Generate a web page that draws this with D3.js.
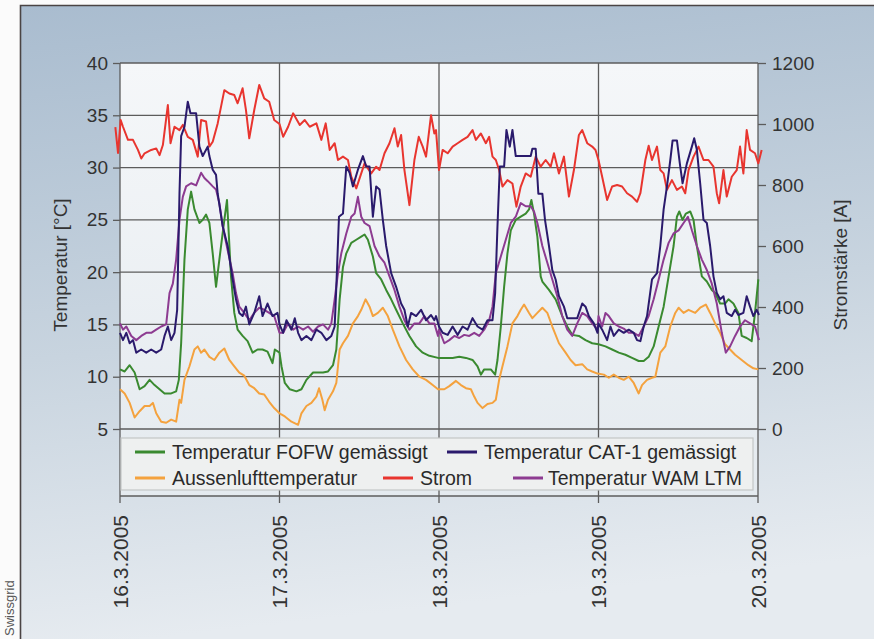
<!DOCTYPE html>
<html><head><meta charset="utf-8">
<script src="https://cdn.jsdelivr.net/npm/d3@7"></script>
<style>
html,body{margin:0;padding:0;background:#fff;}
svg{display:block;font-family:"Liberation Sans",Arial,Helvetica,sans-serif;}
</style></head><body>
<svg id="chart" width="874" height="639"></svg>
<script>
// ---------- data (hours since 16.3.2005 00:00) ----------
const tempTicks = [5, 10, 15, 20, 25, 30, 35, 40];
const stromTicks = [0, 200, 400, 600, 800, 1000, 1200];
const dayLabels = ["16.3.2005", "17.3.2005", "18.3.2005", "19.3.2005", "20.3.2005"];
const legendLabels = ["Temperatur FOFW gemässigt", "Temperatur CAT-1 gemässigt", "Aussenlufttemperatur", "Strom", "Temperatur WAM LTM"];

const fofw = [[0,10.7],[0.7,10.5],[1.45,11.1],[2.2,10.4],[2.95,8.8],[3.7,9.1],[4.45,9.7],[5.2,9.2],[5.95,8.8],[6.7,8.4],[7.7,8.4],[8.45,8.6],[8.85,9.7],[9.2,13.2],[9.7,21.2],[10.2,26.0],[10.7,27.7],[11.2,26.0],[11.95,24.7],[12.45,25.0],[12.95,25.5],[13.45,24.7],[13.95,21.8],[14.45,18.6],[14.95,21.2],[15.7,25.0],[16.1,26.9],[16.7,19.6],[17.2,16.1],[17.7,14.5],[18.45,13.9],[19.2,13.4],[19.95,12.3],[20.7,12.6],[21.45,12.6],[22.2,12.4],[22.95,11.3],[23.3,12.6],[24,12.3],
  [24.3,11.0],[24.8,9.4],[25.55,8.8],[26.55,8.6],[27.3,8.8],[28.05,9.7],[29.05,10.4],[29.8,10.4],[30.55,10.4],[31.3,10.5],[32.05,11.1],[32.55,12.6],[33.05,17.4],[33.55,20.5],[34.05,21.8],[34.8,22.8],[35.55,23.1],[36.3,23.4],[36.8,23.6],[37.3,23.1],[38.05,21.5],[38.55,19.9],[39.3,19.3],[40.05,18.3],[40.8,17.4],[41.55,16.4],[42.55,15.1],[43.55,13.9],[44.55,12.9],[45.55,12.3],[46.55,12.0],[47.85,11.8],
  [49.05,11.8],[50.05,11.8],[51.05,11.9],[52.05,11.8],[53.05,11.6],[53.8,11.0],[54.3,10.2],[54.8,10.7],[55.8,10.7],[56.45,10.2],[56.8,11.6],[57.3,14.8],[57.8,18.6],[58.3,21.8],[58.8,24.0],[59.55,25.0],[60.3,25.3],[61.05,25.6],[61.55,26.0],[61.9,26.9],[62.3,25.6],[62.8,23.4],[63.3,19.6],[63.55,19.1],[64.55,18.3],[65.55,17.4],[66.55,15.8],[67.3,14.8],[68.05,14.0],[69.05,13.9],[70.05,13.5],[71.05,13.2],[72,13.1],
  [73.05,12.9],[74.05,12.6],[75.05,12.3],[76.05,12.1],[77.05,11.8],[78.05,11.5],[78.8,11.5],[79.55,11.9],[80.3,12.9],[81.05,14.8],[81.8,16.7],[82.55,19.6],[83.3,22.5],[83.8,25.3],[84.15,25.8],[84.65,25.0],[85.15,25.6],[85.8,25.8],[86.3,25.0],[86.8,22.5],[87.55,19.6],[88.3,19.1],[89.05,18.3],[89.55,18.0],[90.3,17.0],[91.05,17.0],[91.55,17.4],[92.3,17.0],[93.05,16.1],[93.55,13.9],[94.3,13.7],[95.05,13.4],[95.55,16.1],[96.05,19.3]];

const cat1 = [[0,14.2],[0.45,13.5],[0.95,14.2],[1.45,13.2],[1.95,13.5],[2.45,12.3],[3.2,12.6],[3.95,12.3],[4.7,12.6],[5.45,12.3],[6.2,12.6],[6.7,13.9],[7.2,14.8],[7.7,13.5],[8.2,14.2],[8.6,16.4],[8.95,27.5],[9.2,33.0],[9.7,33.9],[10.2,36.3],[10.6,35.2],[11.45,35.2],[11.95,32.0],[12.45,31.1],[13.2,32.0],[13.45,31.1],[13.95,29.8],[14.45,29.3],[14.7,27.5],[15.45,24.4],[16.2,22.5],[16.95,19.3],[17.45,17.4],[17.95,16.1],[18.45,15.8],[18.95,16.7],[19.45,15.0],[20.2,16.1],[20.95,17.7],[21.45,15.8],[22.2,17.0],[22.95,15.8],[23.7,16.1],[24,15.0],
  [24.55,14.2],[25.05,15.4],[25.8,14.5],[26.3,15.6],[26.8,14.2],[27.3,13.5],[28.05,13.9],[28.8,13.5],[29.55,14.5],[30.3,14.2],[31.05,13.5],[31.8,13.9],[32.3,14.8],[32.55,18.6],[32.95,25.3],[33.55,25.6],[34.05,30.1],[34.55,29.5],[35.05,28.2],[35.8,29.8],[36.55,31.1],[37.05,30.1],[37.55,30.1],[38.05,25.3],[38.55,28.2],[39.05,27.9],[39.55,25.0],[40.05,22.5],[40.8,19.9],[41.55,18.6],[42.3,17.0],[42.8,16.4],[43.3,14.8],[43.8,16.1],[44.55,15.8],[45.3,16.4],[46.05,15.4],[46.8,15.9],[47.3,15.4],[47.55,15.8],[48,14.8],
  [48.55,14.2],[49.3,14.0],[50.05,14.8],[50.8,14.0],[51.55,14.8],[52.3,14.5],[53.05,15.6],[53.8,14.8],[54.55,14.5],[55.3,15.4],[56.05,15.4],[56.45,18.0],[56.8,24.4],[57.15,30.1],[57.8,30.1],[58.15,33.6],[58.65,32.0],[59.05,33.6],[59.55,31.1],[60.3,31.1],[61.05,31.1],[61.8,31.1],[62.05,31.8],[62.55,31.8],[62.95,27.5],[63.55,27.5],[63.95,25.0],[64.55,22.5],[65.05,20.2],[65.55,19.3],[66.05,17.7],[66.8,16.7],[67.3,15.6],[68.05,15.6],[68.8,15.6],[69.55,17.0],[70.05,16.7],[70.55,15.8],[71.3,15.1],[71.85,14.2],[72,15.1],
  [72.55,14.5],[73.3,13.5],[73.8,14.8],[74.3,13.9],[75.05,14.5],[75.8,14.2],[76.55,14.5],[77.3,14.2],[77.8,13.5],[78.3,13.4],[78.8,14.8],[79.3,15.8],[80.05,19.3],[80.8,19.9],[81.3,22.5],[81.8,26.0],[82.3,28.2],[82.8,30.7],[83.15,32.6],[83.8,32.6],[84.3,30.1],[84.65,28.5],[85.3,30.4],[86.05,32.0],[86.4,32.8],[86.8,31.7],[87.3,28.5],[87.8,25.0],[88.3,24.7],[88.8,22.5],[89.3,19.6],[89.8,18.0],[90.3,17.4],[90.8,17.7],[91.3,16.1],[92.05,15.8],[92.55,16.4],[93.05,15.9],[93.8,16.1],[94.3,17.7],[94.8,16.7],[95.3,15.8],[95.8,16.4],[96.15,15.9]];

const aussen = [[0,8.8],[0.7,8.4],[1.45,7.5],[2.2,6.1],[2.95,6.7],[3.7,7.2],[4.45,7.2],[4.95,7.5],[5.45,6.5],[6.2,5.7],[6.95,5.6],[7.7,5.9],[8.45,5.7],[8.95,7.8],[9.2,7.5],[9.7,9.7],[10.45,11.0],[11.2,12.6],[11.7,12.9],[12.2,12.3],[12.7,12.6],[13.45,11.9],[14.2,11.6],[14.95,12.3],[15.7,12.7],[16.45,11.6],[17.2,11.0],[17.95,10.4],[18.7,10.1],[19.45,9.2],[20.2,8.9],[20.95,8.4],[21.7,8.3],[22.45,7.6],[23.2,7.0],[24,6.5],
  [24.8,6.2],[25.8,5.7],[26.8,5.4],[27.3,6.5],[28.05,7.2],[28.8,7.5],[29.55,8.1],[29.95,8.9],[30.45,7.8],[30.8,6.8],[31.3,7.8],[32.05,8.6],[32.55,9.4],[33.05,12.6],[33.55,13.2],[34.3,13.9],[35.05,15.1],[35.8,15.8],[36.3,16.4],[36.95,17.4],[37.55,16.7],[38.05,15.8],[38.8,16.1],[39.55,16.6],[40.3,15.8],[41.05,14.5],[42.05,12.9],[43.05,11.6],[44.05,10.7],[45.05,10.0],[46.05,9.7],[47.05,9.2],[47.85,8.8],
  [48.8,8.8],[49.55,9.1],[50.55,9.6],[51.3,9.2],[52.05,8.9],[52.8,8.8],[53.3,8.1],[53.8,7.5],[54.55,7.0],[55.3,7.4],[56.05,7.5],[56.55,7.8],[57.05,9.7],[57.55,11.0],[58.3,12.9],[59.05,15.1],[59.8,15.8],[60.3,16.4],[60.8,16.9],[61.55,16.1],[62.05,15.6],[62.8,16.1],[63.55,16.6],[64.3,16.1],[65.05,14.8],[66.05,13.2],[67.05,12.3],[67.8,11.6],[68.55,11.1],[69.55,11.2],[70.3,10.7],[71.05,10.5],[71.85,10.3],
  [72.8,10.2],[73.55,9.9],[74.3,10.2],[75.05,9.9],[75.8,9.7],[76.55,10.0],[77.3,9.4],[78.05,8.4],[78.55,9.2],[79.3,9.7],[80.05,9.9],[80.55,10.0],[81.3,12.3],[82.05,12.9],[82.8,14.8],[83.55,16.1],[84.05,16.6],[84.8,16.1],[85.55,16.4],[86.55,16.1],[87.3,16.6],[88.15,16.9],[88.8,16.1],[89.55,15.1],[90.3,14.2],[91.05,13.1],[91.8,12.6],[92.55,12.1],[93.55,11.6],[94.55,11.1],[95.3,10.8],[96.05,10.7]];

const strom = [[-0.7,990],[-0.3,905],[0.1,1013],[0.45,991],[1.2,948],[1.95,948],[2.7,915],[3.2,887],[3.7,904],[4.7,915],[5.45,920],[5.95,898],[6.45,931],[7.2,1062],[7.6,937],[8.2,991],[8.95,980],[9.45,997],[10.2,958],[10.95,948],[11.7,893],[12.2,1013],[12.95,1008],[13.45,926],[13.95,942],[14.7,1002],[15.7,1111],[16.45,1100],[17.2,1095],[17.7,1068],[18.45,1117],[18.95,1046],[19.45,953],[20.2,1046],[20.95,1128],[21.7,1084],[22.45,1073],[23.2,1013],[24,1000],
  [24.55,958],[25.3,991],[26.05,1035],[27.05,997],[27.8,1013],[28.55,991],[29.55,1002],[30.3,948],[30.95,1002],[31.55,915],[32.3,937],[32.8,882],[33.55,893],[34.3,882],[34.8,827],[35.55,789],[36.3,838],[36.8,871],[37.8,838],[38.55,860],[39.05,849],[39.8,904],[40.55,937],[41.3,986],[41.8,926],[42.3,964],[42.8,849],[43.55,734],[44.3,882],[44.95,958],[45.55,926],[46.05,893],[46.8,1029],[47.3,969],[47.55,980],[48,849],
  [48.55,915],[49.3,904],[50.05,926],[50.8,937],[51.55,948],[52.3,958],[53.05,980],[53.55,948],[54.3,969],[55.05,937],[55.55,958],[56.05,893],[56.55,882],[57.05,849],[57.55,795],[58.3,816],[59.05,805],[59.65,729],[60.3,795],[61.05,838],[61.8,827],[62.55,893],[63.3,860],[64.05,882],[64.8,860],[65.3,904],[66.05,838],[66.8,893],[67.55,762],[68.3,849],[69.05,964],[69.55,980],[70.3,937],[71.05,926],[71.55,915],[72,882],
  [72.55,827],[73.3,751],[74.05,795],[74.8,800],[75.55,795],[76.3,773],[77.05,762],[77.8,745],[78.3,773],[79.05,882],[79.55,929],[80.05,882],[80.8,926],[81.3,849],[81.8,838],[82.3,784],[83.05,816],[83.8,784],[84.55,795],[85.05,773],[85.55,849],[86.3,893],[87.05,926],[87.8,882],[88.55,882],[89.3,860],[89.8,773],[90.15,740],[90.8,849],[91.3,762],[92.05,827],[92.8,849],[93.3,926],[93.8,838],[94.3,980],[94.8,915],[95.55,904],[96.05,871],[96.55,915]];

const wam = [[0,15.1],[0.45,14.5],[0.95,14.8],[1.7,13.9],[2.45,13.5],[3.2,13.9],[3.95,14.2],[4.7,14.2],[5.45,14.5],[6.2,14.8],[6.95,15.0],[7.45,18.0],[7.95,18.9],[8.45,21.2],[8.95,25.0],[9.45,27.2],[9.95,28.2],[10.7,28.5],[11.45,28.3],[12.2,29.5],[12.7,29.0],[13.2,28.7],[13.95,28.2],[14.45,27.9],[14.95,26.6],[15.45,24.4],[16.2,22.1],[16.95,19.9],[17.45,18.0],[17.95,16.7],[18.7,16.1],[19.45,15.4],[20.2,16.1],[20.95,16.6],[21.7,16.4],[22.45,16.1],[23.2,15.8],[24,14.2],
  [24.55,14.2],[25.3,15.1],[26.05,14.5],[26.8,14.8],[27.55,14.5],[28.3,14.8],[29.05,14.3],[29.8,14.8],[30.55,15.0],[31.3,14.5],[31.8,15.1],[32.3,17.4],[32.8,19.9],[33.3,21.8],[34.05,23.7],[34.8,25.3],[35.3,25.6],[35.8,27.2],[36.3,25.3],[36.8,24.7],[37.55,24.4],[38.3,22.5],[39.05,21.5],[39.8,20.9],[40.55,19.6],[41.3,18.3],[42.05,16.7],[42.8,15.4],[43.55,14.5],[44.3,15.1],[45.05,15.1],[45.8,15.8],[46.55,15.1],[47.3,15.1],[47.85,13.9],
  [48,14.5],[48.8,13.2],[49.55,13.5],[50.3,13.9],[51.05,13.7],[51.8,14.0],[52.55,13.9],[53.3,14.2],[54.05,13.9],[54.8,14.5],[55.55,15.4],[56.05,16.7],[56.55,19.9],[57.3,21.5],[58.05,23.1],[58.8,24.7],[59.55,25.3],[60.3,26.6],[61.05,26.3],[61.8,26.3],[62.3,25.8],[62.8,24.7],[63.55,22.5],[64.3,20.9],[65.05,19.3],[65.8,17.7],[66.55,15.8],[67.3,14.5],[68.05,13.9],[68.8,15.1],[69.55,16.1],[70.3,15.8],[71.05,15.1],[71.85,14.5],
  [72,15.8],[72.55,14.8],[73.05,16.1],[73.55,15.8],[74.3,15.1],[75.05,14.8],[75.8,14.6],[76.55,14.2],[77.3,14.2],[78.05,13.9],[78.8,14.8],[79.55,15.8],[80.3,17.4],[81.05,19.3],[81.8,21.2],[82.55,22.8],[83.3,23.7],[84.05,24.0],[84.8,24.7],[85.45,25.3],[86.05,24.0],[86.8,22.5],[87.55,21.2],[88.3,20.2],[89.05,18.9],[89.8,17.0],[90.55,14.2],[91.15,12.3],[91.8,12.9],[92.55,13.9],[93.3,14.8],[94.05,15.4],[94.8,15.1],[95.55,14.8],[96.15,13.5]];

const seriesColors = ["#3a8a30", "#2a1a6c", "#f4a23e", "#e8352f", "#8d3b91"];

// ---------- drawing ----------
(function () {
const svg = d3.select("#chart");
const W = 874, H = 639;
const pLeft = 120, pRight = 758, pTop = 63, pBottomT = 429;
const start = new Date(2005, 2, 16), end = new Date(2005, 2, 20);
const toDate = h => new Date(start.getTime() + h * 3600 * 1000);

const x = d3.scaleTime().domain([start, end]).range([pLeft, pRight]);
const yT = d3.scaleLinear().domain([5, 40]).range([pBottomT, pTop]);
const yA = d3.scaleLinear().domain([0, 1200]).range([pBottomT, pTop]);

const defs = svg.append("defs");
const bg = defs.append("linearGradient").attr("id", "bg").attr("x1", 0).attr("y1", 0).attr("x2", 0.15).attr("y2", 1);
bg.append("stop").attr("offset", "0%").attr("stop-color", "#a9bccf");
bg.append("stop").attr("offset", "55%").attr("stop-color", "#c8d4df");
bg.append("stop").attr("offset", "100%").attr("stop-color", "#e6ebf0");
const pg = defs.append("linearGradient").attr("id", "pg").attr("x1", 0).attr("y1", 0).attr("x2", 0).attr("y2", 1);
pg.append("stop").attr("offset", "0%").attr("stop-color", "#f5f7f9");
pg.append("stop").attr("offset", "100%").attr("stop-color", "#e4eaef");

svg.append("rect").attr("width", W).attr("height", H).attr("fill", "#fbfbfb");
svg.append("rect").attr("x", 20).attr("y", 5).attr("width", W - 20).attr("height", H - 5).attr("fill", "url(#bg)");
svg.append("path").attr("d", `M20.5,${H} V5.5 H${W}`).attr("fill", "none").attr("stroke", "#4a4444").attr("stroke-width", 1.6);

svg.append("rect").attr("x", pLeft).attr("y", pTop).attr("width", pRight - pLeft).attr("height", 496 - pTop).attr("fill", "url(#pg)");

const gridColor = "#5c5c5c";
svg.append("g").selectAll("line").data(tempTicks).join("line")
  .attr("x1", pLeft).attr("x2", pRight).attr("y1", d => yT(d)).attr("y2", d => yT(d))
  .attr("stroke", gridColor).attr("stroke-width", 1.3);
const dayDates = dayLabels.map((_, i) => d3.timeDay.offset(start, i));
svg.append("g").selectAll("line").data(dayDates).join("line")
  .attr("x1", d => x(d)).attr("x2", d => x(d)).attr("y1", pTop).attr("y2", 503)
  .attr("stroke", gridColor).attr("stroke-width", 1.3);
svg.append("line").attr("x1", pLeft).attr("x2", pRight).attr("y1", 496).attr("y2", 496)
  .attr("stroke", gridColor).attr("stroke-width", 1.3);

const axL = svg.append("g").attr("transform", `translate(${pLeft},0)`)
  .call(d3.axisLeft(yT).tickValues(tempTicks).tickSize(7).tickPadding(5).tickFormat(d3.format("d")));
const axR = svg.append("g").attr("transform", `translate(${pRight},0)`)
  .call(d3.axisRight(yA).tickValues(stromTicks).tickSize(8).tickPadding(6).tickFormat(d3.format("d")));
[axL, axR].forEach(g => {
  g.select(".domain").remove();
  g.selectAll(".tick line").attr("stroke", gridColor).attr("stroke-width", 1.3);
  g.selectAll(".tick text").attr("font-size", 19).attr("fill", "#333").attr("font-family", "Liberation Sans, Arial, sans-serif");
});

svg.append("text").attr("transform", "translate(67,265) rotate(-90)").attr("text-anchor", "middle")
  .attr("font-size", 19).attr("fill", "#333").text("Temperatur [°C]");
svg.append("text").attr("transform", "translate(847,265) rotate(-90)").attr("text-anchor", "middle")
  .attr("font-size", 19).attr("fill", "#333").text("Stromstärke [A]");

svg.append("g").selectAll("text").data(dayDates).join("text")
  .attr("transform", d => `translate(${x(d)},515) rotate(-90)`)
  .attr("text-anchor", "end").attr("dy", "0.36em")
  .attr("font-size", 21).attr("fill", "#333")
  .text((d, i) => dayLabels[i]);

svg.append("rect").attr("x", 121).attr("y", 438).attr("width", 632).attr("height", 52)
  .attr("fill", "#eef0f0").attr("stroke", "#c4c6c6").attr("stroke-width", 1.2);

const lineT = d3.line().x(d => x(toDate(d[0]))).y(d => yT(d[1]));
const lineA = d3.line().x(d => x(toDate(d[0]))).y(d => yA(d[1]));
const series = [
  {data: aussen, gen: lineT, c: seriesColors[2]},
  {data: fofw, gen: lineT, c: seriesColors[0]},
  {data: strom, gen: lineA, c: seriesColors[3]},
  {data: wam, gen: lineT, c: seriesColors[4]},
  {data: cat1, gen: lineT, c: seriesColors[1]}
];
svg.append("g").selectAll("path").data(series).join("path")
  .attr("d", s => s.gen(s.data)).attr("fill", "none").attr("stroke", s => s.c)
  .attr("stroke-width", 2).attr("stroke-linejoin", "round");

const legItems = [
  {i: 0, sx: 135, tx: 172, y: 452},
  {i: 1, sx: 447, tx: 484, y: 452},
  {i: 2, sx: 135, tx: 172, y: 478},
  {i: 3, sx: 383, tx: 420, y: 478},
  {i: 4, sx: 513, tx: 548, y: 478}
];
const lg = svg.append("g").selectAll("g").data(legItems).join("g");
lg.append("line").attr("x1", d => d.sx).attr("x2", d => d.sx + 30).attr("y1", d => d.y).attr("y2", d => d.y)
  .attr("stroke", d => seriesColors[d.i]).attr("stroke-width", 3);
lg.append("text").attr("x", d => d.tx).attr("y", d => d.y).attr("dy", "0.35em")
  .attr("font-size", 19.5).attr("fill", "#2a2a2a").text(d => legendLabels[d.i]);

svg.append("text").attr("transform", "translate(14,636) rotate(-90)").attr("font-size", 13)
  .attr("fill", "#555").text("Swissgrid");
})();
</script>
</body></html>
